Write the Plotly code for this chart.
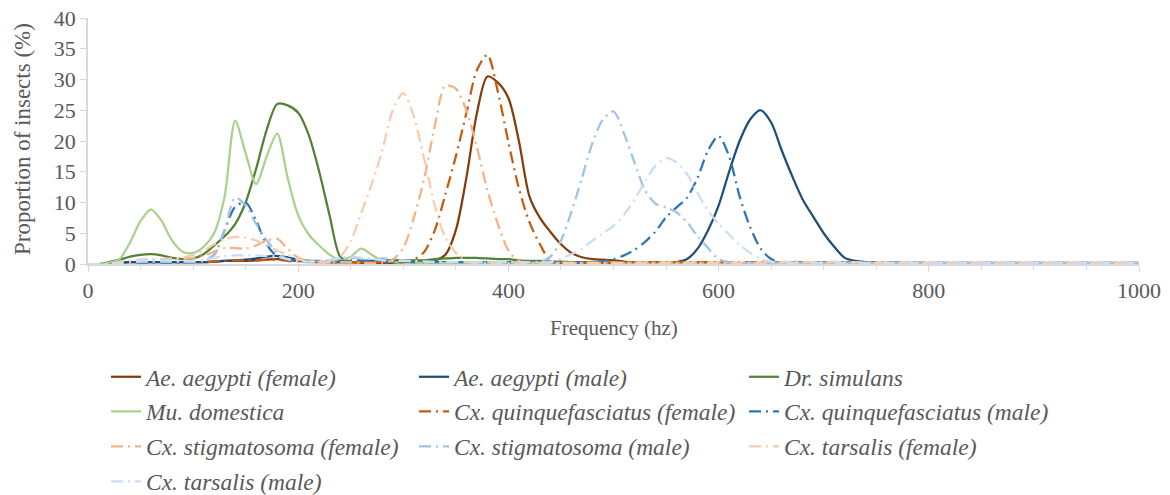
import plotly.graph_objects as go

# Frequency grid (Hz)
freq = list(range(0, 751, 10)) + [800, 850, 900, 950, 1000]

ae_aegypti_female = [
    0, 0, 0, 0.2, 0.3, 0.3, 0.3, 0.3, 0.3, 0.3,
    0.3, 0.3, 0.4, 0.5, 0.5, 0.5, 0.6, 0.7, 0.8, 0.7,
    0.5, 0.4, 0.3, 0.3, 0.3, 0.3, 0.2, 0.2, 0.2, 0.2,
    0.2, 0.2, 0.3, 0.6, 1.5, 5.5, 14.0, 24.5, 30.5, 29.5,
    27.0, 20.0, 11.0, 7.5, 5.2, 3.2, 1.8, 1.1, 0.8, 0.7,
    0.6, 0.4, 0.2, 0.2, 0.2, 0.1, 0.1, 0.1, 0.1, 0.1,
    0.1, 0.1, 0.1, 0.1, 0.1, 0.1, 0.1, 0.1, 0.1, 0.1,
    0.1, 0.1, 0.1, 0.1, 0.1, 0.1,
    0.1, 0.1, 0.1, 0.1, 0.1,
]
ae_aegypti_male = [
    0, 0, 0, 0.2, 0.3, 0.3, 0.3, 0.3, 0.3, 0.3,
    0.3, 0.3, 0.4, 0.5, 0.6, 0.7, 0.9, 1.2, 1.3, 1.1,
    0.7, 0.5, 0.4, 0.3, 0.3, 0.3, 0.4, 0.5, 0.6, 0.6,
    0.6, 0.5, 0.5, 0.4, 0.3, 0.3, 0.2, 0.2, 0.2, 0.2,
    0.2, 0.2, 0.2, 0.2, 0.2, 0.1, 0.1, 0.1, 0.1, 0.1,
    0.1, 0.1, 0.1, 0.1, 0.1, 0.1, 0.3, 0.8, 2.5, 5.5,
    9.5, 15.0, 20.0, 23.5, 25.0, 23.0, 18.5, 14.3, 10.5, 7.7,
    5.0, 2.8, 1.0, 0.5, 0.3, 0.2,
    0.1, 0.1, 0.1, 0.1, 0.1,
]
dr_simulans = [
    0, 0, 0.3, 0.7, 1.2, 1.5, 1.6, 1.4, 1.0, 0.8,
    0.9, 1.6, 3.0, 4.5, 6.5, 10.0, 15.5, 21.8, 26.0, 25.8,
    24.6, 21.0, 15.0, 7.8, 1.2, 0.4, 0.3, 0.3, 0.4, 0.5,
    0.5, 0.6, 0.6, 0.8, 0.9, 1.0, 1.0, 1.0, 0.9, 0.8,
    0.8, 0.6, 0.5, 0.5, 0.4, 0.4, 0.3, 0.3, 0.3, 0.3,
    0.2, 0.2, 0.2, 0.2, 0.2, 0.2, 0.2, 0.2, 0.2, 0.2,
    0.2, 0.2, 0.1, 0.1, 0.1, 0.1, 0.1, 0.1, 0.1, 0.1,
    0.1, 0.1, 0.1, 0.1, 0.1, 0.1,
    0.1, 0.1, 0.1, 0.1, 0.1,
]
mu_domestica = [
    0, 0, 0.2, 0.8, 3.5, 7.0, 8.9, 7.0, 3.8, 2.0,
    1.8, 2.8, 5.0, 11.0, 23.3, 18.0, 13.0, 17.5, 21.2, 14.0,
    7.9, 4.8, 3.0, 1.5, 0.6, 1.2, 2.5, 1.5, 0.5, 0.3,
    0.2, 0.2, 0.2, 0.2, 0.2, 0.2, 0.2, 0.2, 0.2, 0.2,
    0.2, 0.2, 0.2, 0.2, 0.2, 0.2, 0.2, 0.2, 0.2, 0.2,
    0.2, 0.2, 0.2, 0.2, 0.2, 0.2, 0.2, 0.2, 0.2, 0.2,
    0.1, 0.1, 0.1, 0.1, 0.1, 0.1, 0.1, 0.1, 0.1, 0.1,
    0.1, 0.1, 0.1, 0.1, 0.1, 0.1,
    0.1, 0.1, 0.1, 0.1, 0.1,
]
cx_quinq_female = [
    0, 0, 0, 0.3, 0.4, 0.4, 0.3, 0.3, 0.3, 0.3,
    0.3, 0.3, 0.4, 0.5, 0.6, 0.6, 0.6, 0.7, 0.7, 0.5,
    0.4, 0.3, 0.3, 0.3, 0.3, 0.3, 0.3, 0.3, 0.3, 0.3,
    0.3, 0.7, 2.0, 5.5, 11.3, 17.5, 24.5, 31.5, 34.0, 28.0,
    19.8, 12.3, 6.8, 3.2, 0.5, 0.2, 0.2, 0.2, 0.2, 0.2,
    0.2, 0.3, 0.3, 0.3, 0.3, 0.3, 0.3, 0.3, 0.3, 0.3,
    0.3, 0.3, 0.3, 0.3, 0.3, 0.3, 0.3, 0.3, 0.3, 0.3,
    0.3, 0.3, 0.3, 0.3, 0.3, 0.3,
    0.2, 0.2, 0.2, 0.2, 0.2,
]
cx_quinq_male = [
    0, 0, 0, 0.2, 0.2, 0.2, 0.2, 0.2, 0.2, 0.2,
    0.3, 0.5, 1.5, 5.5, 9.3, 10.0, 7.0, 3.2, 1.2, 0.7,
    0.5, 0.5, 0.5, 0.5, 0.5, 0.6, 0.6, 0.5, 0.4, 0.4,
    0.4, 0.3, 0.3, 0.3, 0.3, 0.3, 0.3, 0.3, 0.3, 0.3,
    0.3, 0.3, 0.3, 0.3, 0.3, 0.3, 0.3, 0.3, 0.3, 0.5,
    0.8, 1.4, 2.3, 3.6, 5.3, 7.6, 9.2, 10.8, 14.0, 18.5,
    20.8, 17.5, 11.0, 6.0, 2.5, 0.8, 0.3, 0.2, 0.2, 0.2,
    0.2, 0.2, 0.2, 0.2, 0.2, 0.2,
    0.2, 0.2, 0.2, 0.2, 0.2,
]
cx_stigma_female = [
    0, 0, 0, 0.3, 0.5, 0.6, 0.6, 0.6, 0.7, 0.8,
    1.0, 1.3, 2.0, 2.6, 2.6, 2.5, 3.0, 3.8, 4.1, 2.5,
    1.0, 0.5, 0.4, 0.3, 0.3, 0.3, 0.2, 0.2, 0.2, 0.7,
    2.6, 7.5, 14.0, 22.5, 29.0, 28.5, 25.0, 19.0, 12.0, 6.5,
    2.2, 0.5, 0.2, 0.2, 0.2, 0.2, 0.2, 0.2, 0.2, 0.2,
    0.2, 0.2, 0.2, 0.2, 0.2, 0.2, 0.2, 0.2, 0.2, 0.2,
    0.2, 0.2, 0.2, 0.2, 0.2, 0.2, 0.2, 0.2, 0.2, 0.2,
    0.2, 0.2, 0.2, 0.2, 0.2, 0.2,
    0.2, 0.2, 0.2, 0.2, 0.2,
]
cx_stigma_male = [
    0, 0, 0, 0.2, 0.2, 0.3, 0.3, 0.3, 0.3, 0.3,
    0.3, 0.5, 1.5, 5.5, 10.8, 9.5, 6.5, 3.9, 1.8, 0.8,
    0.5, 0.4, 0.4, 0.5, 0.8, 1.0, 0.9, 0.8, 0.9, 0.8,
    0.6, 0.5, 0.4, 0.4, 0.3, 0.3, 0.3, 0.3, 0.3, 0.3,
    0.3, 0.3, 0.3, 0.3, 1.2, 3.8, 8.5, 14.0, 19.7, 23.5,
    24.8, 21.2, 16.5, 12.0, 9.8, 9.2, 8.4, 6.8, 4.5, 2.6,
    0.8, 0.3, 0.2, 0.2, 0.2, 0.2, 0.2, 0.2, 0.2, 0.2,
    0.2, 0.2, 0.2, 0.2, 0.2, 0.2,
    0.2, 0.2, 0.2, 0.2, 0.2,
]
cx_tarsalis_female = [
    0, 0, 0, 0.3, 0.5, 0.7, 0.8, 0.8, 0.9, 1.0,
    1.5, 2.2, 3.2, 4.0, 4.4, 4.3, 3.8, 3.0, 2.2, 1.5,
    0.8, 0.4, 0.3, 0.3, 1.2, 3.7, 8.3, 13.0, 18.5, 25.0,
    27.8, 24.0, 17.0, 9.5, 4.3, 1.8, 0.4, 0.2, 0.2, 0.2,
    0.2, 0.2, 0.2, 0.2, 0.2, 0.2, 0.2, 0.2, 0.2, 0.2,
    0.2, 0.2, 0.2, 0.2, 0.2, 0.2, 0.2, 0.2, 0.2, 0.2,
    0.2, 0.2, 0.2, 0.2, 0.2, 0.2, 0.3, 0.4, 0.4, 0.3,
    0.3, 0.4, 0.3, 0.3, 0.2, 0.2,
    0.2, 0.2, 0.2, 0.2, 0.2,
]
cx_tarsalis_male = [
    0, 0, 0, 0.2, 0.3, 0.5, 0.6, 0.6, 0.5, 0.5,
    0.5, 0.7, 1.0, 1.3, 1.4, 1.4, 1.4, 1.3, 1.2, 0.8,
    0.5, 0.4, 0.5, 0.7, 1.0, 1.2, 1.0, 0.8, 0.6, 0.5,
    0.5, 0.4, 0.4, 0.3, 0.3, 0.3, 0.3, 0.3, 0.3, 0.3,
    0.3, 0.3, 0.3, 0.3, 0.3, 0.9, 1.6, 2.5, 3.8, 5.0,
    6.2, 8.0, 10.5, 13.4, 16.0, 17.2, 16.5, 14.6, 11.5, 8.7,
    6.5, 4.8, 3.1, 1.8, 0.8, 0.4, 0.2, 0.2, 0.2, 0.2,
    0.2, 0.2, 0.2, 0.2, 0.2, 0.2,
    0.2, 0.2, 0.2, 0.2, 0.2,
]

names = [
    "Ae. aegypti (female)", "Ae. aegypti (male)", "Dr. simulans",
    "Mu. domestica", "Cx. quinquefasciatus (female)", "Cx. quinquefasciatus (male)",
    "Cx. stigmatosoma (female)", "Cx. stigmatosoma (male)", "Cx. tarsalis (female)",
    "Cx. tarsalis (male)",
]
series = [
    ae_aegypti_female, ae_aegypti_male, dr_simulans, mu_domestica,
    cx_quinq_female, cx_quinq_male, cx_stigma_female, cx_stigma_male,
    cx_tarsalis_female, cx_tarsalis_male,
]
colors = [
    "#843c0c", "#1f4e79", "#548235", "#a9d18e", "#c55a11", "#2e75b6",
    "#f4b183", "#9dc3e6", "#f8cbad", "#c9def2",
]
dashes = ["solid"] * 4 + ["12px,5px,2px,5px"] * 6

for s in series:
    assert len(s) == len(freq), len(s)

W, H = 1170, 495
FONT = "Liberation Serif, Times New Roman, serif"
GREY = "#595959"
AXC = "#d9d9d9"
PL, PR, PT, PB = 88, 1139, 18, 264  # plot area in pixels
PW, PH = PR - PL, PB - PT

fig = go.Figure()
legend_ids = ["legend"] + [f"legend{i}" for i in range(2, 11)]
col_x = [106, 414, 744]
row_y = [377, 411.5, 446.5, 481.5]

for i, (nm, ys, c, d) in enumerate(zip(names, series, colors, dashes)):
    fig.add_trace(go.Scatter(
        x=freq, y=ys, name=nm, mode="lines",
        line=dict(color=c, width=2.25, dash=d, shape="spline", smoothing=0.8),
        legend=legend_ids[i],
    ))

layout_legends = {}
for i, lid in enumerate(legend_ids):
    r, cidx = divmod(i, 3)
    layout_legends[lid] = dict(
        x=col_x[cidx] / W, y=1 - row_y[r] / H,
        xref="container", yref="container",
        xanchor="left", yanchor="middle",
        bgcolor="rgba(0,0,0,0)", borderwidth=0,
        font=dict(family=FONT, size=23.5, color=GREY, style="italic"),
    )

fig.update_layout(
    width=W, height=H,
    margin=dict(l=PL, r=W - PR, t=PT, b=H - PB, autoexpand=False),
    paper_bgcolor="white", plot_bgcolor="white",
    showlegend=True,
    font=dict(family=FONT, size=19, color=GREY),
    annotations=[
        dict(text="Frequency (hz)", xref="paper", yref="paper",
             x=0.5, y=(PB - 328) / PH, xanchor="center", yanchor="middle",
             showarrow=False, font=dict(family=FONT, size=21, color=GREY)),
        dict(text="Proportion of insects (%)", xref="paper", yref="paper",
             x=(22 - PL) / PW, y=(PB - 139) / PH, xanchor="center", yanchor="middle",
             textangle=-90, showarrow=False, font=dict(family=FONT, size=23, color=GREY)),
    ],
    **layout_legends,
)
fig.update_xaxes(
    range=[0, 1000], tickvals=[0, 200, 400, 600, 800, 1000],
    ticks="outside", ticklen=6, tickcolor=AXC, tickwidth=1.3,
    minor=dict(dtick=50, ticks="outside", ticklen=4, tickcolor=AXC, tickwidth=1.3),
    showline=True, linecolor=AXC, linewidth=1.5, showgrid=False, zeroline=False,
    tickfont=dict(family=FONT, size=22, color=GREY),
    automargin=False,
)
fig.update_yaxes(
    range=[0, 40], dtick=5,
    ticks="outside", ticklen=6, tickcolor=AXC, tickwidth=1.3,
    showline=True, linecolor=AXC, linewidth=1.5, showgrid=False, zeroline=False,
    tickfont=dict(family=FONT, size=22, color=GREY),
    automargin=False,
)

fig.write_html("out.html")
